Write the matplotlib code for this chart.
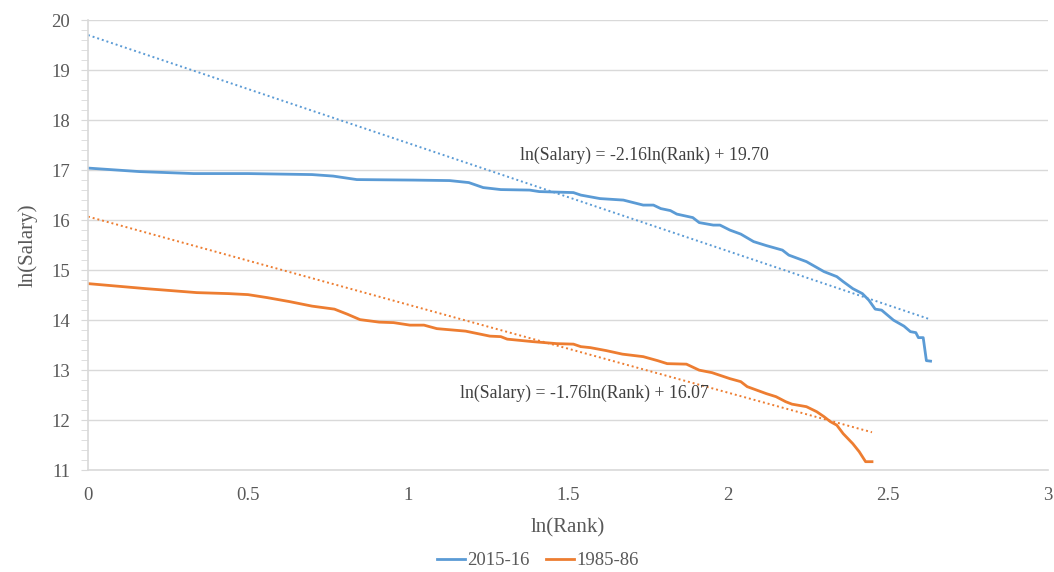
import matplotlib.pyplot as plt
import numpy as np
from matplotlib.ticker import MultipleLocator

plt.rcParams['font.family'] = ['Liberation Serif', 'DejaVu Serif']

# 2015-16 season: ln(Rank) vs ln(Salary)
x_2015 = [0.0, 0.16, 0.33, 0.50, 0.70, 0.766, 0.84, 1.017, 1.13, 1.19, 1.235, 1.29,
          1.38, 1.41, 1.517, 1.54, 1.60, 1.673, 1.735, 1.767, 1.79, 1.82, 1.84, 1.89,
          1.91, 1.954, 1.975, 2.006, 2.04, 2.08, 2.12, 2.17, 2.19, 2.245, 2.30, 2.34,
          2.36, 2.39, 2.42, 2.44, 2.46, 2.48, 2.517, 2.55, 2.57, 2.587, 2.595, 2.61,
          2.62, 2.633]
y_2015 = [17.04, 16.97, 16.93, 16.93, 16.91, 16.88, 16.81, 16.80, 16.79, 16.75, 16.65, 16.61,
          16.60, 16.57, 16.55, 16.50, 16.43, 16.40, 16.30, 16.30, 16.23, 16.19, 16.12, 16.05,
          15.95, 15.90, 15.90, 15.80, 15.72, 15.57, 15.49, 15.40, 15.30, 15.17, 14.97, 14.87,
          14.77, 14.63, 14.53, 14.40, 14.22, 14.20, 14.00, 13.88, 13.77, 13.75, 13.65, 13.65,
          13.19, 13.18]

# 1985-86 season
x_1985 = [0.0, 0.18, 0.34, 0.44, 0.50, 0.56, 0.63, 0.70, 0.77, 0.81, 0.85, 0.91, 0.955,
          1.006, 1.05, 1.09, 1.18, 1.256, 1.29, 1.31, 1.39, 1.465, 1.517, 1.54, 1.57,
          1.62, 1.67, 1.735, 1.78, 1.81, 1.87, 1.91, 1.95, 2.006, 2.04, 2.06, 2.09,
          2.12, 2.15, 2.18, 2.20, 2.245, 2.277, 2.30, 2.32, 2.34, 2.36, 2.39, 2.41,
          2.43, 2.45]
y_1985 = [14.73, 14.63, 14.55, 14.53, 14.51, 14.45, 14.37, 14.28, 14.22, 14.12, 14.01, 13.96, 13.95,
          13.90, 13.90, 13.83, 13.78, 13.68, 13.67, 13.62, 13.57, 13.53, 13.52, 13.47, 13.45,
          13.39, 13.32, 13.27, 13.19, 13.13, 13.12, 13.00, 12.95, 12.83, 12.77, 12.67, 12.60,
          12.53, 12.47, 12.37, 12.32, 12.27, 12.17, 12.07, 11.97, 11.90, 11.73, 11.53, 11.37,
          11.17, 11.17]

# trendline coefficients (slope, intercept)
fit_2015 = (-2.16, 19.70)
fit_1985 = (-1.76, 16.07)

blue = '#5B9BD5'
orange = '#ED7D31'
grid_c = '#D9D9D9'
text_c = '#595959'

fig = plt.figure(figsize=(10.54, 5.72), dpi=100)
ax = fig.add_axes([0.0835, 0.178, 0.9108, 0.787])

ax.plot(x_2015, y_2015, color=blue, lw=2, label='2015-16')
ax.plot(x_1985, y_1985, color=orange, lw=2, label='1985-86')

xt = np.array([0, max(x_2015)])
ax.plot(xt, fit_2015[0] * xt + fit_2015[1], color=blue, lw=1.4, ls=(0, (1, 1.5)))
xt = np.array([0, max(x_1985)])
ax.plot(xt, fit_1985[0] * xt + fit_1985[1], color=orange, lw=1.4, ls=(0, (1, 1.5)))

ax.text(1.74, 17.3, 'ln(Salary) = -2.16ln(Rank) + 19.70', ha='center', va='center',
        fontsize=12.8, color='#404040')
ax.text(1.55, 12.54, 'ln(Salary) = -1.76ln(Rank) + 16.07', ha='center', va='center',
        fontsize=12.8, color='#404040')

ax.set_xlim(0, 3)
ax.set_ylim(11, 20)
ax.yaxis.set_major_locator(MultipleLocator(1))
ax.yaxis.set_minor_locator(MultipleLocator(0.2))
ax.set_xticks([0, 0.5, 1, 1.5, 2, 2.5, 3], ['0', '0.5', '1', '1.5', '2', '2.5', '3'])

ax.grid(axis='y', color=grid_c, lw=1)
ax.set_axisbelow(True)
for s in ['top', 'right']:
    ax.spines[s].set_visible(False)
for s in ['left', 'bottom']:
    ax.spines[s].set_color(grid_c)
    ax.spines[s].set_linewidth(1.2)

ax.tick_params(axis='x', length=0, pad=12, labelsize=13.5, labelcolor=text_c)
ax.tick_params(axis='y', which='both', length=5, color=grid_c, pad=8,
               labelsize=13.5, labelcolor=text_c)

ax.set_xlabel('ln(Rank)', fontsize=15, color=text_c, labelpad=10)
ax.set_ylabel('ln(Salary)', fontsize=15, color=text_c, labelpad=10)

h, l = ax.get_legend_handles_labels()
fig.legend(h, l, loc='center', bbox_to_anchor=(0.51, 0.02), ncol=2, frameon=False,
           fontsize=13.5, handlelength=1.5, handletextpad=0.1, columnspacing=0.9,
           labelcolor=text_c)

fig.savefig('out.png', dpi=100)
